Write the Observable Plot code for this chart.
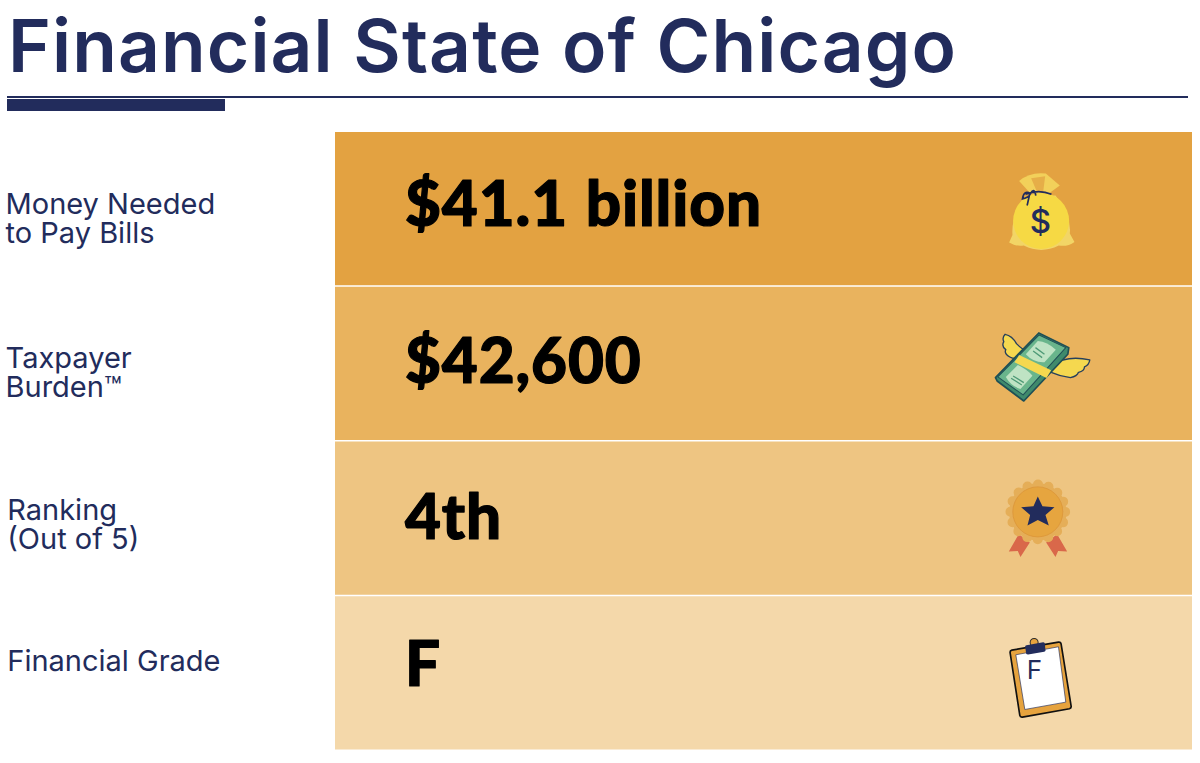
<!DOCTYPE html>
<html><head><meta charset="utf-8">
<script src="https://cdn.jsdelivr.net/npm/d3@7"></script>
<script src="https://cdn.jsdelivr.net/npm/@observablehq/plot@0.6"></script>
<style>
html,body{margin:0;padding:0;background:#fff;overflow:hidden}
#head{position:relative;height:120px;width:1200px}
#head h1{position:absolute;left:8px;top:0;margin:0;font:600 73px/92px Inter,sans-serif;color:#222c5c;white-space:nowrap;letter-spacing:1.1px}
#line{position:absolute;left:7px;top:96px;width:1181px;height:1.5px;background:#222c5c}
#bar{position:absolute;left:7px;top:99px;width:218px;height:12px;background:#222c5c}
#chart svg{display:block}
.values text{word-spacing:2px;letter-spacing:0.9px}
</style></head><body>
<div id="head"><h1>Financial State of Chicago</h1><div id="line"></div><div id="bar"></div></div>
<div id="chart"></div>
<script>
const metrics = ["Money Needed\nto Pay Bills", "Taxpayer\nBurden™", "Ranking\n(Out of 5)", "Financial Grade"];
const values = ["$41.1 billion", "$42,600", "4th", "F"];
const iconLetters = ["$", "", "", "F"];
const bandColors = ["#e3a241", "#e9b35e", "#eec582", "#f4d8aa"];
const navy = "#222c5c";

const svg = (y0, body) => "data:image/svg+xml," + encodeURIComponent(
  `<svg xmlns="http://www.w3.org/2000/svg" viewBox="0 ${y0} 360 360">${body}</svg>`);

const bagIcon = svg(-33, `
  <path d="M116 60Q150 32 196 38L238 74L205 98H150Z" fill="#f2d05a"/>
  <path d="M152 52L170 94H188L194 46Z" fill="#e6ae48"/>
  <path d="M130 108Q92 170 96 222L86 245Q108 258 130 254Q182 280 235 254Q262 258 282 243L268 218Q274 165 225 104Z" fill="#f2d566"/>
  <circle cx="182" cy="180" r="84" fill="#f6d944"/>
  <path d="M135 100Q175 84 213 100M150 98Q130 86 126 114Q146 110 150 98Q162 78 166 104M148 98L140 134" fill="none" stroke="#222c5c" stroke-width="5"/>`);

const wingFill = `fill="#f5d84f" stroke="#27405c" stroke-width="4" stroke-linejoin="round"`;
const moneyIcon = svg(431, `
  <path d="M135 585Q105 598 88 588Q70 578 76 566Q62 556 70 542Q64 530 74 520Q95 524 108 548Q125 566 142 572Z" ${wingFill}/>
  <path d="M212 612Q262 582 328 597Q326 612 312 618Q312 630 294 634Q290 646 270 650Q235 645 206 632Z" ${wingFill}/>
  <path d="M45 650L175 516L265 560L262 580L130 720L50 660Z" fill="#3f8a6c" stroke="#1f4f55" stroke-width="5" stroke-linejoin="round"/>
  <path d="M52 648L176 522L256 560L128 702Z" fill="#69b58c" stroke="#1f4f55" stroke-width="3" stroke-linejoin="round"/>
  <path d="M136 580L172 540Q200 542 226 566L192 604Q160 606 136 580Z" fill="#bfe3c4"/>
  <path d="M76 648L112 612Q140 625 156 644L120 684Q92 676 76 648Z" fill="#bfe3c4"/>
  <path d="M165 560L192 580M158 570L185 590M98 645L130 665M92 652L124 672" stroke="#4f9a77" stroke-width="4"/>
  <path d="M116 582L212 628L198 651L102 604Z" fill="#f5d84f"/>`);

const medalIcon = svg(85.5, `
  <path d="M115 310L148 335L120 378L112 360L85 362Z" fill="#d9684a"/>
  <path d="M230 310L197 335L225 378L233 360L260 362Z" fill="#d9684a"/>
  <circle cx="172" cy="243" r="86" fill="#e5ae58"/>
  <circle cx="172" cy="243" r="82" fill="none" stroke="#e5ae58" stroke-width="30" stroke-linecap="round" stroke-dasharray="0 32.2"/>
  <circle cx="172" cy="243" r="75" fill="#e6a53f" stroke="#dc963a" stroke-width="2.5"/>
  <path d="M172 197L186 226L222 229L195 252L205 284L172 267L141 284L149 252L122 229L159 226Z" fill="#222c5c"/>`);

const clipIcon = svg(550, `
  <path d="M94 658L234 634Q241 633 242 640L272 826Q273 832 267 834L126 859Q119 860 118 854L89 666Q88 659 94 658Z" fill="#e6a33e" stroke="#111" stroke-width="5"/>
  <path d="M106 672L234 648L256 814L133 836Z" fill="#fff" stroke="#27305a" stroke-width="2"/>
  <circle cx="161" cy="635" r="12" fill="#e6a33e" stroke="#2a2a2a" stroke-width="3"/>
  <path d="M138 643L188 634Q192 634 193 638L195 658Q195 662 191 663L143 671Q138 671 137 667L134 648Q134 644 138 643Z" fill="#222c5c"/>`);

const icons = [bagIcon, moneyIcon, medalIcon, clipIcon];
const rows = metrics.map((metric, i) => ({metric, value: values[i], letter: iconLetters[i], icon: icons[i]}));

const labelFont = {fontFamily: "Inter, sans-serif", fontSize: 29, fontWeight: 400, fill: navy, textAnchor: "start", lineHeight: 1, lineAnchor: "middle"};
const valueFont = {fontFamily: "Lato, sans-serif", fontSize: 62, fontWeight: 900, fill: "#000", stroke: "#000", strokeWidth: 1.2, textAnchor: "start", lineAnchor: "middle", className: "values"};
const labelNudge = [9, 9, 6, -12];
const valueNudge = [-4, -1, 0, -8];
const labelX = [-0.385, -0.385, -0.383, -0.383];

const chart = Plot.plot({
  width: 1200, height: 643, margin: 0,
  x: {domain: [0, 1], range: [335, 1192], axis: null},
  y: {domain: metrics, range: [12, 631], padding: 0, round: false, axis: null},
  color: {domain: metrics, range: bandColors},
  marks: [
    Plot.barX(rows, {x1: () => 0, x2: () => 1, y: "metric", fill: "metric", insetBottom: 1.5}),
    ...rows.flatMap((r, i) => [
      Plot.text([r], {x: () => labelX[i], y: "metric", text: "metric", dy: labelNudge[i], ...labelFont}),
      Plot.text([r], {x: () => 0.081, y: "metric", text: "value", dy: valueNudge[i], ...valueFont})
    ]),
    Plot.image(rows, {x: () => 0.8226, y: "metric", src: "icon", width: 120, height: 120}),
    Plot.text(rows.filter(r => r.letter === "$"), {x: () => 0.8226, y: "metric", text: "letter", dy: 13, fontFamily: "Inter, sans-serif", fontWeight: 500, fontSize: 33, fill: navy}),
    Plot.text(rows.filter(r => r.letter === "F"), {x: () => 0.8155, y: "metric", text: "letter", dy: -3, fontFamily: "Inter, sans-serif", fontWeight: 400, fontSize: 26, fill: navy})
  ]
});
document.getElementById("chart").append(chart);
</script>
</body></html>
